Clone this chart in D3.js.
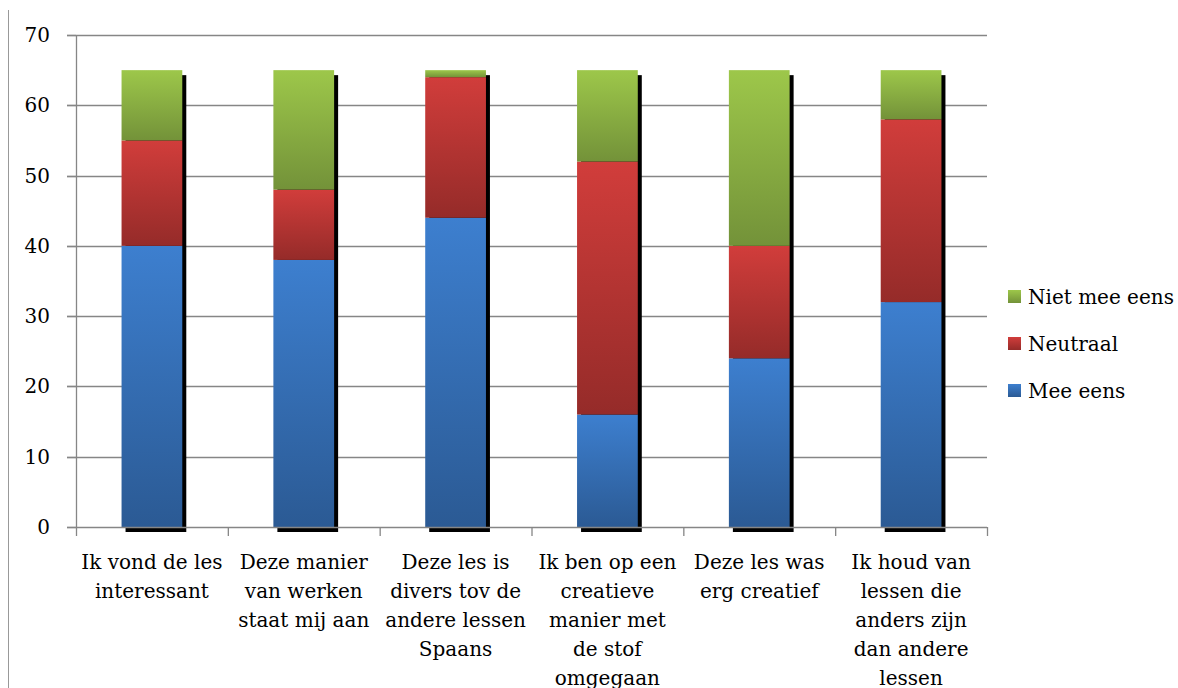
<!DOCTYPE html>
<html>
<head>
<meta charset="utf-8">
<script src="https://cdn.jsdelivr.net/npm/d3@7"></script>
<style>
  body { margin: 0; background: #fff; }
</style>
</head>
<body>
<svg id="chart" width="1178" height="688"></svg>
<script>
const width = 1178, height = 688;
const svg = d3.select("#chart");
const FONT = "'DejaVu Serif', 'Liberation Serif', serif";

// data
const categories = [
  "Ik vond de les\ninteressant",
  "Deze manier\nvan werken\nstaat mij aan",
  "Deze les is\ndivers tov de\nandere lessen\nSpaans",
  "Ik ben op een\ncreatieve\nmanier met\nde stof\nomgegaan",
  "Deze les was\nerg creatief",
  "Ik houd van\nlessen die\nanders zijn\ndan andere\nlessen"
];
const meeEens     = [40, 38, 44, 16, 24, 32];
const neutraal    = [15, 10, 20, 36, 16, 26];
const nietMeeEens = [10, 17, 1, 13, 25, 7];
const seriesNames = ["Mee eens", "Neutraal", "Niet mee eens"];
const yTicks = [0, 10, 20, 30, 40, 50, 60, 70];

// colors: [top, bottom] of the gradient
const colors = {
  "Mee eens": ["#3d7fcf", "#2b5a94"],
  "Neutraal": ["#d13d3b", "#952b29"],
  "Niet mee eens": ["#9dc74a", "#739239"]
};

const margin = {left: 76, right: 191, top: 35, bottom: 161};
const x = d3.scaleBand()
  .domain(categories)
  .range([margin.left, width - margin.right])
  .paddingInner(0.6).paddingOuter(0.3);
const y = d3.scaleLinear().domain([0, 70]).range([height - margin.bottom, margin.top]);

const rows = categories.map((c, i) => ({
  cat: c, "Mee eens": meeEens[i], "Neutraal": neutraal[i], "Niet mee eens": nietMeeEens[i]
}));
const stacked = d3.stack().keys(seriesNames)(rows);

// gradients
const defs = svg.append("defs");
seriesNames.forEach((s, i) => {
  const g = defs.append("linearGradient").attr("id", "grad" + i)
    .attr("x1", 0).attr("y1", 0).attr("x2", 0).attr("y2", 1);
  g.append("stop").attr("offset", "0%").attr("stop-color", colors[s][0]);
  g.append("stop").attr("offset", "100%").attr("stop-color", colors[s][1]);
});

// chart border (left edge)
svg.append("line")
  .attr("x1", 8.5).attr("x2", 8.5).attr("y1", 10).attr("y2", height)
  .attr("stroke", "#999").attr("stroke-width", 1);

// gridlines
svg.append("g").selectAll("line")
  .data(yTicks.filter(d => d > 0))
  .join("line")
    .attr("x1", margin.left - 9).attr("x2", width - margin.right)
    .attr("y1", d => Math.round(y(d)) + 0.5).attr("y2", d => Math.round(y(d)) + 0.5)
    .attr("stroke", "#868686").attr("stroke-width", 1.3);

// y axis
svg.append("line")
  .attr("x1", margin.left + 0.5).attr("x2", margin.left + 0.5)
  .attr("y1", y(70)).attr("y2", y(0))
  .attr("stroke", "#868686").attr("stroke-width", 1.3);
svg.append("g").selectAll("line")
  .data(yTicks)
  .join("line")
    .attr("x1", margin.left - 9).attr("x2", margin.left)
    .attr("y1", d => Math.round(y(d)) + 0.5).attr("y2", d => Math.round(y(d)) + 0.5)
    .attr("stroke", "#868686").attr("stroke-width", 1.3);
svg.append("g").selectAll("text")
  .data(yTicks)
  .join("text")
    .attr("x", 50).attr("y", d => y(d))
    .attr("dy", "0.35em")
    .attr("text-anchor", "end")
    .attr("font-family", FONT)
    .attr("font-size", 20)
    .text(d => d);

// bars: shadow first
const barG = svg.append("g");
barG.selectAll("rect.shadow")
  .data(rows)
  .join("rect")
    .attr("class", "shadow")
    .attr("x", d => x(d.cat) + 4)
    .attr("y", (d, i) => y(stacked[2][i][1]) + 5)
    .attr("width", x.bandwidth())
    .attr("height", (d, i) => y(0) - y(stacked[2][i][1]))
    .attr("fill", "#000");

stacked.forEach((layer, si) => {
  barG.selectAll("rect.s" + si)
    .data(layer)
    .join("rect")
      .attr("class", "s" + si)
      .attr("x", d => x(d.data.cat))
      .attr("y", d => y(d[1]))
      .attr("width", x.bandwidth())
      .attr("height", d => y(d[0]) - y(d[1]))
      .attr("fill", `url(#grad${si})`);
});

// x axis
svg.append("line")
  .attr("x1", margin.left - 9).attr("x2", width - margin.right)
  .attr("y1", Math.round(y(0)) + 0.5).attr("y2", Math.round(y(0)) + 0.5)
  .attr("stroke", "#868686").attr("stroke-width", 1.3);
const step = x.step();
svg.append("g").selectAll("line")
  .data(d3.range(categories.length + 1))
  .join("line")
    .attr("x1", i => margin.left + i * step + 0.5).attr("x2", i => margin.left + i * step + 0.5)
    .attr("y1", y(0)).attr("y2", y(0) + 9)
    .attr("stroke", "#868686").attr("stroke-width", 1.3);

const labels = svg.append("g").selectAll("text")
  .data(categories)
  .join("text")
    .attr("x", d => x(d) + x.bandwidth() / 2)
    .attr("y", y(0) + 42)
    .attr("text-anchor", "middle")
    .attr("font-family", FONT)
    .attr("font-size", 20);
labels.each(function(d) {
  const t = d3.select(this);
  d.split("\n").forEach((line, i) => {
    t.append("tspan").attr("x", x(d) + x.bandwidth() / 2)
      .attr("dy", i === 0 ? 0 : 29).text(line);
  });
});

// legend
const legendItems = ["Niet mee eens", "Neutraal", "Mee eens"];
const legend = svg.append("g").attr("transform", "translate(1008,297)");
legend.selectAll("g")
  .data(legendItems)
  .join("g")
    .attr("transform", (d, i) => `translate(0,${i * 47})`)
    .each(function(d) {
      const g = d3.select(this);
      g.append("rect").attr("x", 0).attr("y", -7).attr("width", 13).attr("height", 13)
        .attr("fill", `url(#grad${seriesNames.indexOf(d)})`);
      g.append("text").attr("x", 20).attr("y", 0).attr("dy", "0.35em")
        .attr("font-family", FONT)
        .attr("font-size", 20).text(d);
    });
</script>
</body>
</html>
